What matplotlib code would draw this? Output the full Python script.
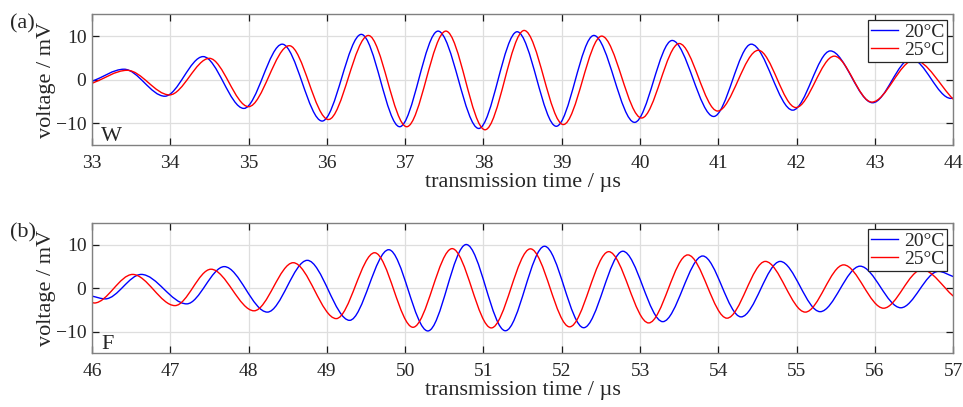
import numpy as np
import matplotlib
matplotlib.use('Agg')
import matplotlib.pyplot as plt
from matplotlib.path import Path
from matplotlib.patches import PathPatch
from matplotlib.lines import Line2D

# Values: start point, extrema (peaks / troughs), end point
# (a) W
w20_t = [33.0, 33.41, 33.93, 34.42, 34.94, 35.43, 35.94, 36.44, 36.93, 37.42, 37.94,
         38.43, 38.93, 39.41, 39.93, 40.41, 40.94, 41.42, 41.95, 42.43, 42.97, 43.46, 43.97, 44.0]
w20_v = [-0.4, 2.4, -3.8, 5.3, -6.6, 8.15, -9.5, 10.4, -10.8, 11.15, -11.2,
         11.0, -10.7, 10.15, -9.8, 9.0, -8.45, 8.15, -7.0, 6.6, -5.3, 4.8, -4.3, -4.25]
w25_t = [33.0, 33.45, 33.99, 34.50, 35.00, 35.52, 36.02, 36.53, 37.02, 37.52, 38.02,
         38.52, 39.02, 39.51, 40.02, 40.50, 40.99, 41.51, 41.99, 42.48, 42.96, 43.50, 44.0]
w25_v = [-0.85, 2.15, -3.5, 4.9, -6.2, 7.8, -9.15, 10.15, -10.8, 11.15, -11.5,
         11.3, -10.3, 10.0, -8.8, 8.3, -7.2, 6.75, -6.4, 5.4, -5.15, 4.5, -4.5]

# (b) F
f20_t = [46.0, 46.17, 46.63, 47.21, 47.69, 48.24, 48.75, 49.29, 49.79, 50.29, 50.78,
         51.28, 51.78, 52.28, 52.78, 53.29, 53.80, 54.29, 54.79, 55.30, 55.81, 56.33, 56.81, 57.0]
f20_v = [-1.8, -2.45, 3.2, -3.6, 5.0, -5.5, 6.45, -7.4, 8.9, -9.85, 10.1,
         -9.8, 9.7, -9.1, 8.55, -7.7, 7.45, -6.6, 6.2, -5.4, 5.1, -4.5, 3.9, 2.7]
f25_t = [46.0, 46.03, 46.52, 47.06, 47.52, 48.07, 48.57, 49.12, 49.61, 50.10, 50.60,
         51.10, 51.60, 52.10, 52.60, 53.11, 53.61, 54.11, 54.60, 55.11, 55.60, 56.11, 56.60, 57.0]
f25_v = [-3.3, -3.4, 3.2, -4.0, 4.4, -5.2, 5.9, -7.0, 8.2, -9.0, 9.15,
         -9.15, 9.1, -8.9, 8.45, -8.0, 7.7, -6.9, 6.2, -5.5, 5.4, -4.6, 4.3, -1.8]

labels = ['20°C', '25°C']
colors = ['#0000ff', '#ff0000']
txt = '#262626'

plt.rcParams['font.family'] = ['Liberation Serif', 'DejaVu Serif']
plt.rcParams['font.size'] = 14


def wave(t, v):
    # smooth curve through the read extrema (flat tangent at each extremum)
    t = np.asarray(t, float)
    v = np.asarray(v, float)
    n = len(t)
    m = np.zeros(n)
    m[0] = (v[1] - v[0]) / (t[1] - t[0])
    m[-1] = (v[-1] - v[-2]) / (t[-1] - t[-2])
    if abs(t[1] - t[0]) < 0.05:
        m[0] = 0
    if abs(t[-1] - t[-2]) < 0.05:
        m[-1] = 0
    verts = [(t[0], v[0])]
    codes = [Path.MOVETO]
    for i in range(n - 1):
        h = t[i + 1] - t[i]
        verts += [(t[i] + h / 3, v[i] + m[i] * h / 3),
                  (t[i + 1] - h / 3, v[i + 1] - m[i + 1] * h / 3),
                  (t[i + 1], v[i + 1])]
        codes += [Path.CURVE4] * 3
    return Path(verts, codes)


fig = plt.figure(figsize=(9.63, 4.07), dpi=100)
ax1 = fig.add_axes([0.0955, 0.6437, 0.8944, 0.3211])
ax2 = fig.add_axes([0.0955, 0.132, 0.8944, 0.3194])

panels = [
    (ax1, [(w20_t, w20_v), (w25_t, w25_v)], (33, 44), 'W', '(a)', 1 - 14 / 407),
    (ax2, [(f20_t, f20_v), (f25_t, f25_v)], (46, 57), 'F', '(b)', 1 - 223 / 407),
]

for ax, series, xl, tag, letter, ly in panels:
    for (t, v), c in zip(series, colors):
        ax.add_patch(PathPatch(wave(t, v), fill=False, edgecolor=c, lw=1.0))
    ax.set_xlim(*xl)
    ax.set_ylim(-15, 15)
    ax.set_xticks(np.arange(xl[0], xl[1] + 1, 1))
    ax.set_yticks([-10, 0, 10])
    ax.grid(True, color='#dedede', lw=0.9)
    ax.set_axisbelow(True)
    ax.tick_params(direction='in', top=True, right=True, length=5, width=0.9,
                   color='#1a1a1a', labelcolor=txt, labelsize=14)
    ax.tick_params(axis='x', pad=7)
    ax.tick_params(axis='y', pad=4)
    for s in ax.spines.values():
        s.set_color('#808080')
        s.set_linewidth(1.0)
    ax.set_xlabel('transmission time / µs', color=txt, fontsize=16, labelpad=1)
    ax.set_ylabel('voltage / mV', color=txt, fontsize=16, labelpad=-0.5)
    ax.text(0.011, 0.03, tag, transform=ax.transAxes, fontsize=16, color=txt)
    fig.text(10 / 963, ly, letter, fontsize=16, color=txt, va='top')
    handles = [Line2D([], [], color=c, lw=1.0) for c in colors]
    leg = ax.legend(handles, labels, loc='upper right', fontsize=14, frameon=True,
                    fancybox=False, framealpha=1, edgecolor='#262626',
                    handlelength=1.4, handletextpad=0.3, borderpad=0.15,
                    labelspacing=0.05, borderaxespad=0.3)
    leg.get_frame().set_linewidth(0.9)
    for tx in leg.get_texts():
        tx.set_color(txt)

fig.savefig('out.png', dpi=100)
